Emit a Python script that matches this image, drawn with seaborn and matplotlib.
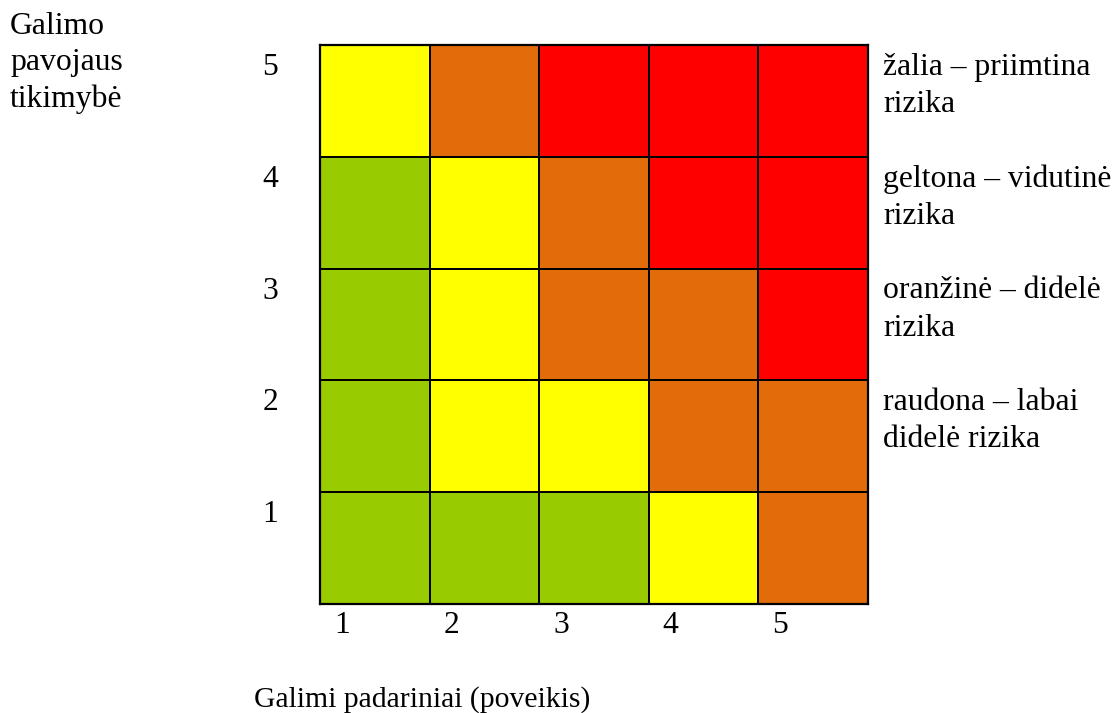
import numpy as np
import pandas as pd
import matplotlib
matplotlib.use("Agg")
import matplotlib.pyplot as plt
from matplotlib.colors import ListedColormap
import seaborn as sns

# --- dati ---
tikimybe = [5, 4, 3, 2, 1]          # rows, top to bottom
padariniai = [1, 2, 3, 4, 5]        # columns
# 0 = zalia, 1 = geltona, 2 = oranzine, 3 = raudona
rizika = [
    [1, 2, 3, 3, 3],
    [0, 1, 2, 3, 3],
    [0, 1, 2, 2, 3],
    [0, 1, 1, 2, 2],
    [0, 0, 0, 1, 2],
]
spalvos = ["#99CC00", "#FFFF00", "#E36C0A", "#FF0000"]
legenda = [
    "žalia – priimtina\nrizika",
    "geltona – vidutinė\nrizika",
    "oranžinė – didelė\nrizika",
    "raudona – labai\ndidelė rizika",
]

sns.set_theme(style="white")
plt.rcParams["font.family"] = ["Liberation Serif", "DejaVu Serif"]
plt.rcParams["text.color"] = "black"
FS = 22.8
LS = 1.38

W, H = 1116, 713
fig = plt.figure(figsize=(W / 100, H / 100), dpi=100)
ax = fig.add_axes([320 / W, 1 - 604 / H, 548 / W, 559 / H])

df = pd.DataFrame(rizika, index=tikimybe, columns=padariniai)
sns.heatmap(df, ax=ax, cmap=ListedColormap(spalvos), vmin=-0.5, vmax=3.5,
            cbar=False, linewidths=1.3, linecolor="black", square=False)
for s in ax.spines.values():
    s.set_visible(True)
    s.set_linewidth(1.6)
    s.set_color("black")

ax.set_xticks([])
ax.set_yticks([])
ax.set_xlabel("")
ax.set_ylabel("")

# row labels (left, near top of each row)
for i, v in enumerate(tikimybe):
    ax.text(-0.456, i + 0.268, str(v), ha="center", va="baseline", fontsize=FS)
# column labels (below, left part of each column)
for j, v in enumerate(padariniai):
    ax.text(j + 0.2, 5.26, str(v), ha="center", va="baseline", fontsize=FS)
# legend text on the right (baseline = last line)
for i, t in enumerate(legenda):
    ax.text(5.137, i + 0.6, t, ha="left", va="baseline", fontsize=FS,
            linespacing=LS)

fig.text(10 / W, 1 - 107 / H, "Galimo\npavojaus\ntikimybė", ha="left",
         va="baseline", fontsize=FS, linespacing=1.32)
fig.text(254 / W, 1 - 707 / H, "Galimi padariniai (poveikis)", ha="left",
         va="baseline", fontsize=21.3)

fig.savefig("out.png", dpi=100)
